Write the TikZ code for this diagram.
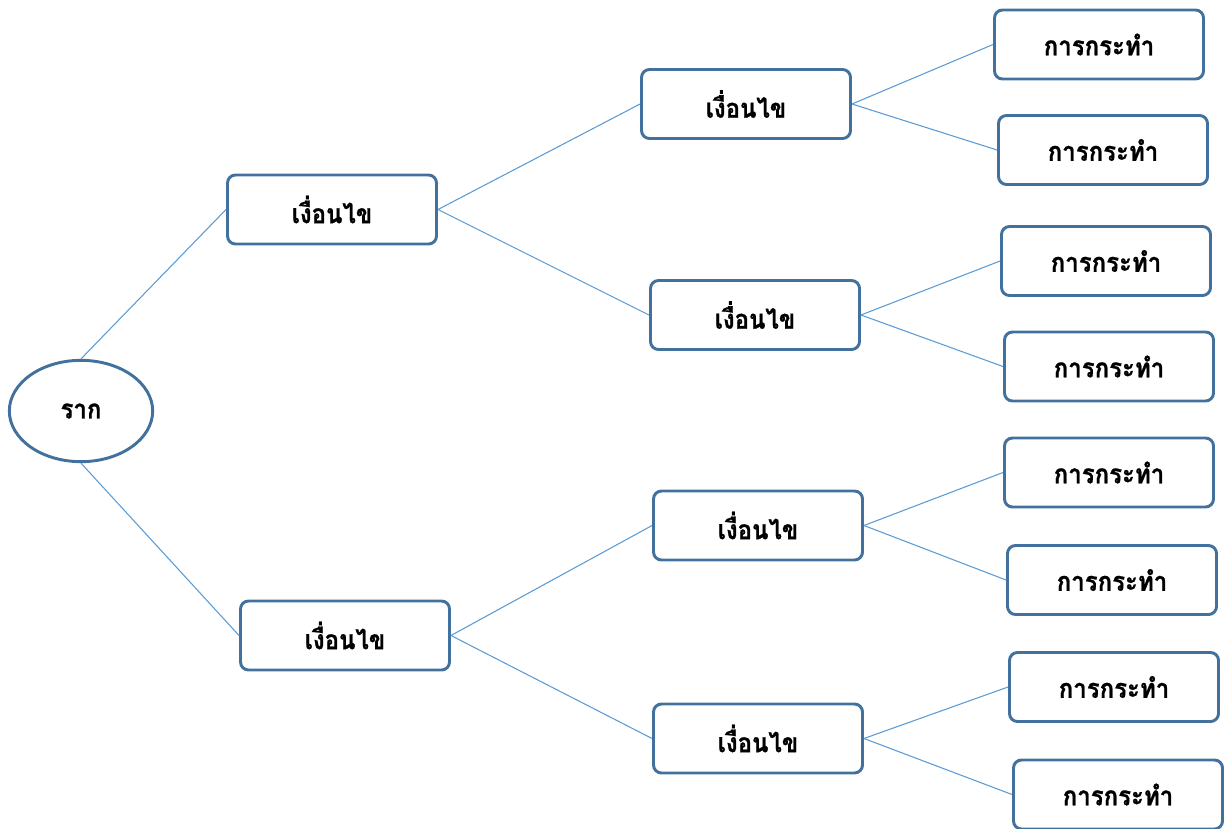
\documentclass[tikz,border=0pt]{standalone}
\usepackage{fontspec}
\newfontfamily\thaifont[Script=Thai, FakeStretch=0.9, BoldFeatures={FakeBold=0.8}]{Loma}
\usetikzlibrary{trees,shapes.geometric}
\definecolor{boxblue}{HTML}{41719C}
\definecolor{lineblue}{HTML}{5B9BD5}

\begin{document}
\begin{tikzpicture}
  [x=0.75pt, y=-0.75pt,
  font=\thaifont\bfseries\fontsize{20}{23}\selectfont,
  grow'=right,
  box/.style={draw=boxblue, line width=2.2pt, rounded corners=6pt,
    minimum width=156.75pt, minimum height=51.75pt},
  rootnode/.style={ellipse, draw=boxblue, line width=2.2pt,
    minimum width=107.5pt, minimum height=76pt},
  edge from parent/.style={draw=lineblue, line width=0.8pt},
  side edge/.style={edge from parent path={(\tikzparentnode.east) -- (\tikzchildnode.west)}},
  from top/.style={edge from parent path={(\tikzparentnode.north) -- (\tikzchildnode.west)}},
  from bottom/.style={edge from parent path={(\tikzparentnode.south) -- (\tikzchildnode.west)}},
  level 1/.style={level distance=193.5pt, sibling distance=319.5pt},
  level 2/.style={level distance=310.5pt, sibling distance=158.25pt, side edge},
  level 3/.style={level distance=266.25pt, sibling distance=79.5pt, side edge}]
  \useasboundingbox (0,0) rectangle (1224,828);
  \node[rootnode] (root) at (81,411) {ราก}
    child[from top, shift={(-7,11.5)}]{
      node[box] (c1) {เงื่อนไข}
      child{
        node[box] (c11) {เงื่อนไข}
        child[shift={(-2,-6.5)}]{node[box] (a111) {การกระทำ}}
        child[shift={(2,-7)}]{node[box] (a112) {การกระทำ}}
      }
      child[shift={(9,0)}]{
        node[box] (c12) {เงื่อนไข}
        child[shift={(-4,-1)}]{node[box] (a121) {การกระทำ}}
        child[shift={(-1,-1.5)}]{node[box] (a122) {การกระทำ}}
      }
    }
    child[from bottom, shift={(6,11.5)}]{
      node[box] (c2) {เงื่อนไข}
      child[shift={(-1,-4.5)}]{
        node[box] (c21) {เงื่อนไข}
        child[shift={(-4,0)}]{node[box] (a211) {การกระทำ}}
        child[shift={(-1,1.5)}]{node[box] (a212) {การกระทำ}}
      }
      child[shift={(-1,-2.5)}]{
        node[box] (c22) {เงื่อนไข}
        child[shift={(1,1.5)}]{node[box] (a221) {การกระทำ}}
        child[shift={(5,3)}]{node[box] (a222) {การกระทำ}}
      }
    };
\end{tikzpicture}
\end{document}
